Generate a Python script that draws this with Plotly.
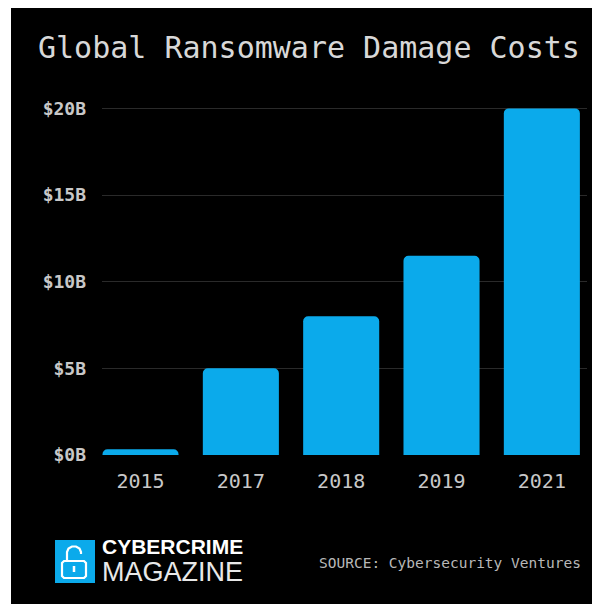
import plotly.graph_objects as go

years = ["2015", "2017", "2018", "2019", "2021"]
damage_billions = [0.325, 5, 8, 11.5, 20]
y_tick_values = [0, 5, 10, 15, 20]
y_tick_labels = ["$0B", "$5B", "$10B", "$15B", "$20B"]

title_text = "Global Ransomware Damage Costs"
source_text = "SOURCE: Cybersecurity Ventures"

BLUE = "#0BAAEB"
OFF = 8  # the page body places the figure 8px in from the top-left corner
W, H = 600 - OFF, 604 - OFF
ML, MR, MT, MB = 102 - OFF, 13, 98 - OFF, 149
PW = W - ML - MR
PH = H - MT - MB


def px(x):
    return (x - OFF - ML) / PW


def py(y):
    return (H - MB - (y - OFF)) / PH


fig = go.Figure()
fig.add_trace(go.Bar(
    x=years, y=damage_billions,
    marker=dict(color=BLUE, cornerradius=5, line=dict(width=0)),
    hoverinfo="x+y",
))

shapes = [
    dict(type="rect", xref="paper", yref="paper", x0=px(11), x1=px(600), y0=py(604), y1=py(8),
         fillcolor="#000000", line=dict(width=0), layer="below"),
    dict(type="rect", xref="paper", yref="paper", x0=px(55), x1=px(95), y0=py(583), y1=py(540),
         fillcolor=BLUE, line=dict(width=0), layer="above"),
]


def path_px(points, close=False):
    s = ""
    for i, (x, y) in enumerate(points):
        s += ("M" if i == 0 else "L") + f"{px(x):.5f},{py(y):.5f} "
    if close:
        s += "Z"
    return s


shackle = path_px([(67, 561), (67, 552), (68.5, 548.5), (72, 546.5), (76, 546.5), (79.5, 548.5), (81, 552), (81, 554)])
body = path_px([(64, 561), (84, 561), (86, 563), (86, 576), (84, 578), (64, 578), (62, 576), (62, 563)], close=True)
keyhole = path_px([(74, 566), (74, 572)])
for p in (shackle, body):
    shapes.append(dict(type="path", xref="paper", yref="paper", path=p,
                       line=dict(color="white", width=2.2), layer="above"))
shapes.append(dict(type="path", xref="paper", yref="paper", path=keyhole,
                   line=dict(color="white", width=2.5), layer="above"))

annotations = [
    dict(text=title_text, xref="paper", yref="paper", x=px(309), y=py(47),
         xanchor="center", yanchor="middle", showarrow=False,
         font=dict(family="DejaVu Sans Mono", size=30, color="#D8D8D8")),
    dict(text=source_text, xref="paper", yref="paper", x=px(317), y=py(563),
         xanchor="left", yanchor="middle", showarrow=False,
         font=dict(family="DejaVu Sans Mono", size=14.5, color="#B8B8B8")),
    dict(text="<b>CYBERCRIME</b><br><span style='font-size:27px;color:#E8E8E8;font-weight:300'>MAGAZINE</span>",
         xref="paper", yref="paper", x=px(100), y=py(561),
         xanchor="left", yanchor="middle", showarrow=False, align="left",
         font=dict(family="Liberation Sans", size=21, color="#FFFFFF")),
]

fig.update_layout(
    width=W, height=H,
    margin=dict(l=ML, r=MR, t=MT, b=MB, pad=0),
    paper_bgcolor="#FFFFFF",
    plot_bgcolor="#000000",
    showlegend=False,
    bargap=0.242,
    shapes=shapes,
    annotations=annotations,
    xaxis=dict(
        range=[-0.384, 4.45],
        showgrid=False, zeroline=False, showline=False, ticks="",
        tickfont=dict(family="DejaVu Sans Mono", size=20, color="#C8C8C8"),
        ticklabelstandoff=12,
        fixedrange=True,
    ),
    yaxis=dict(
        range=[0, 20.6],
        tickvals=y_tick_values, ticktext=y_tick_labels,
        showgrid=True, gridcolor="#2A2A2A", gridwidth=1,
        zeroline=False, showline=False, ticks="",
        tickfont=dict(family="DejaVu Sans Mono", size=18, color="#C8C8C8", weight="bold"),
        ticklabelstandoff=15,
        fixedrange=True,
    ),
)

fig.write_html("out.html")
